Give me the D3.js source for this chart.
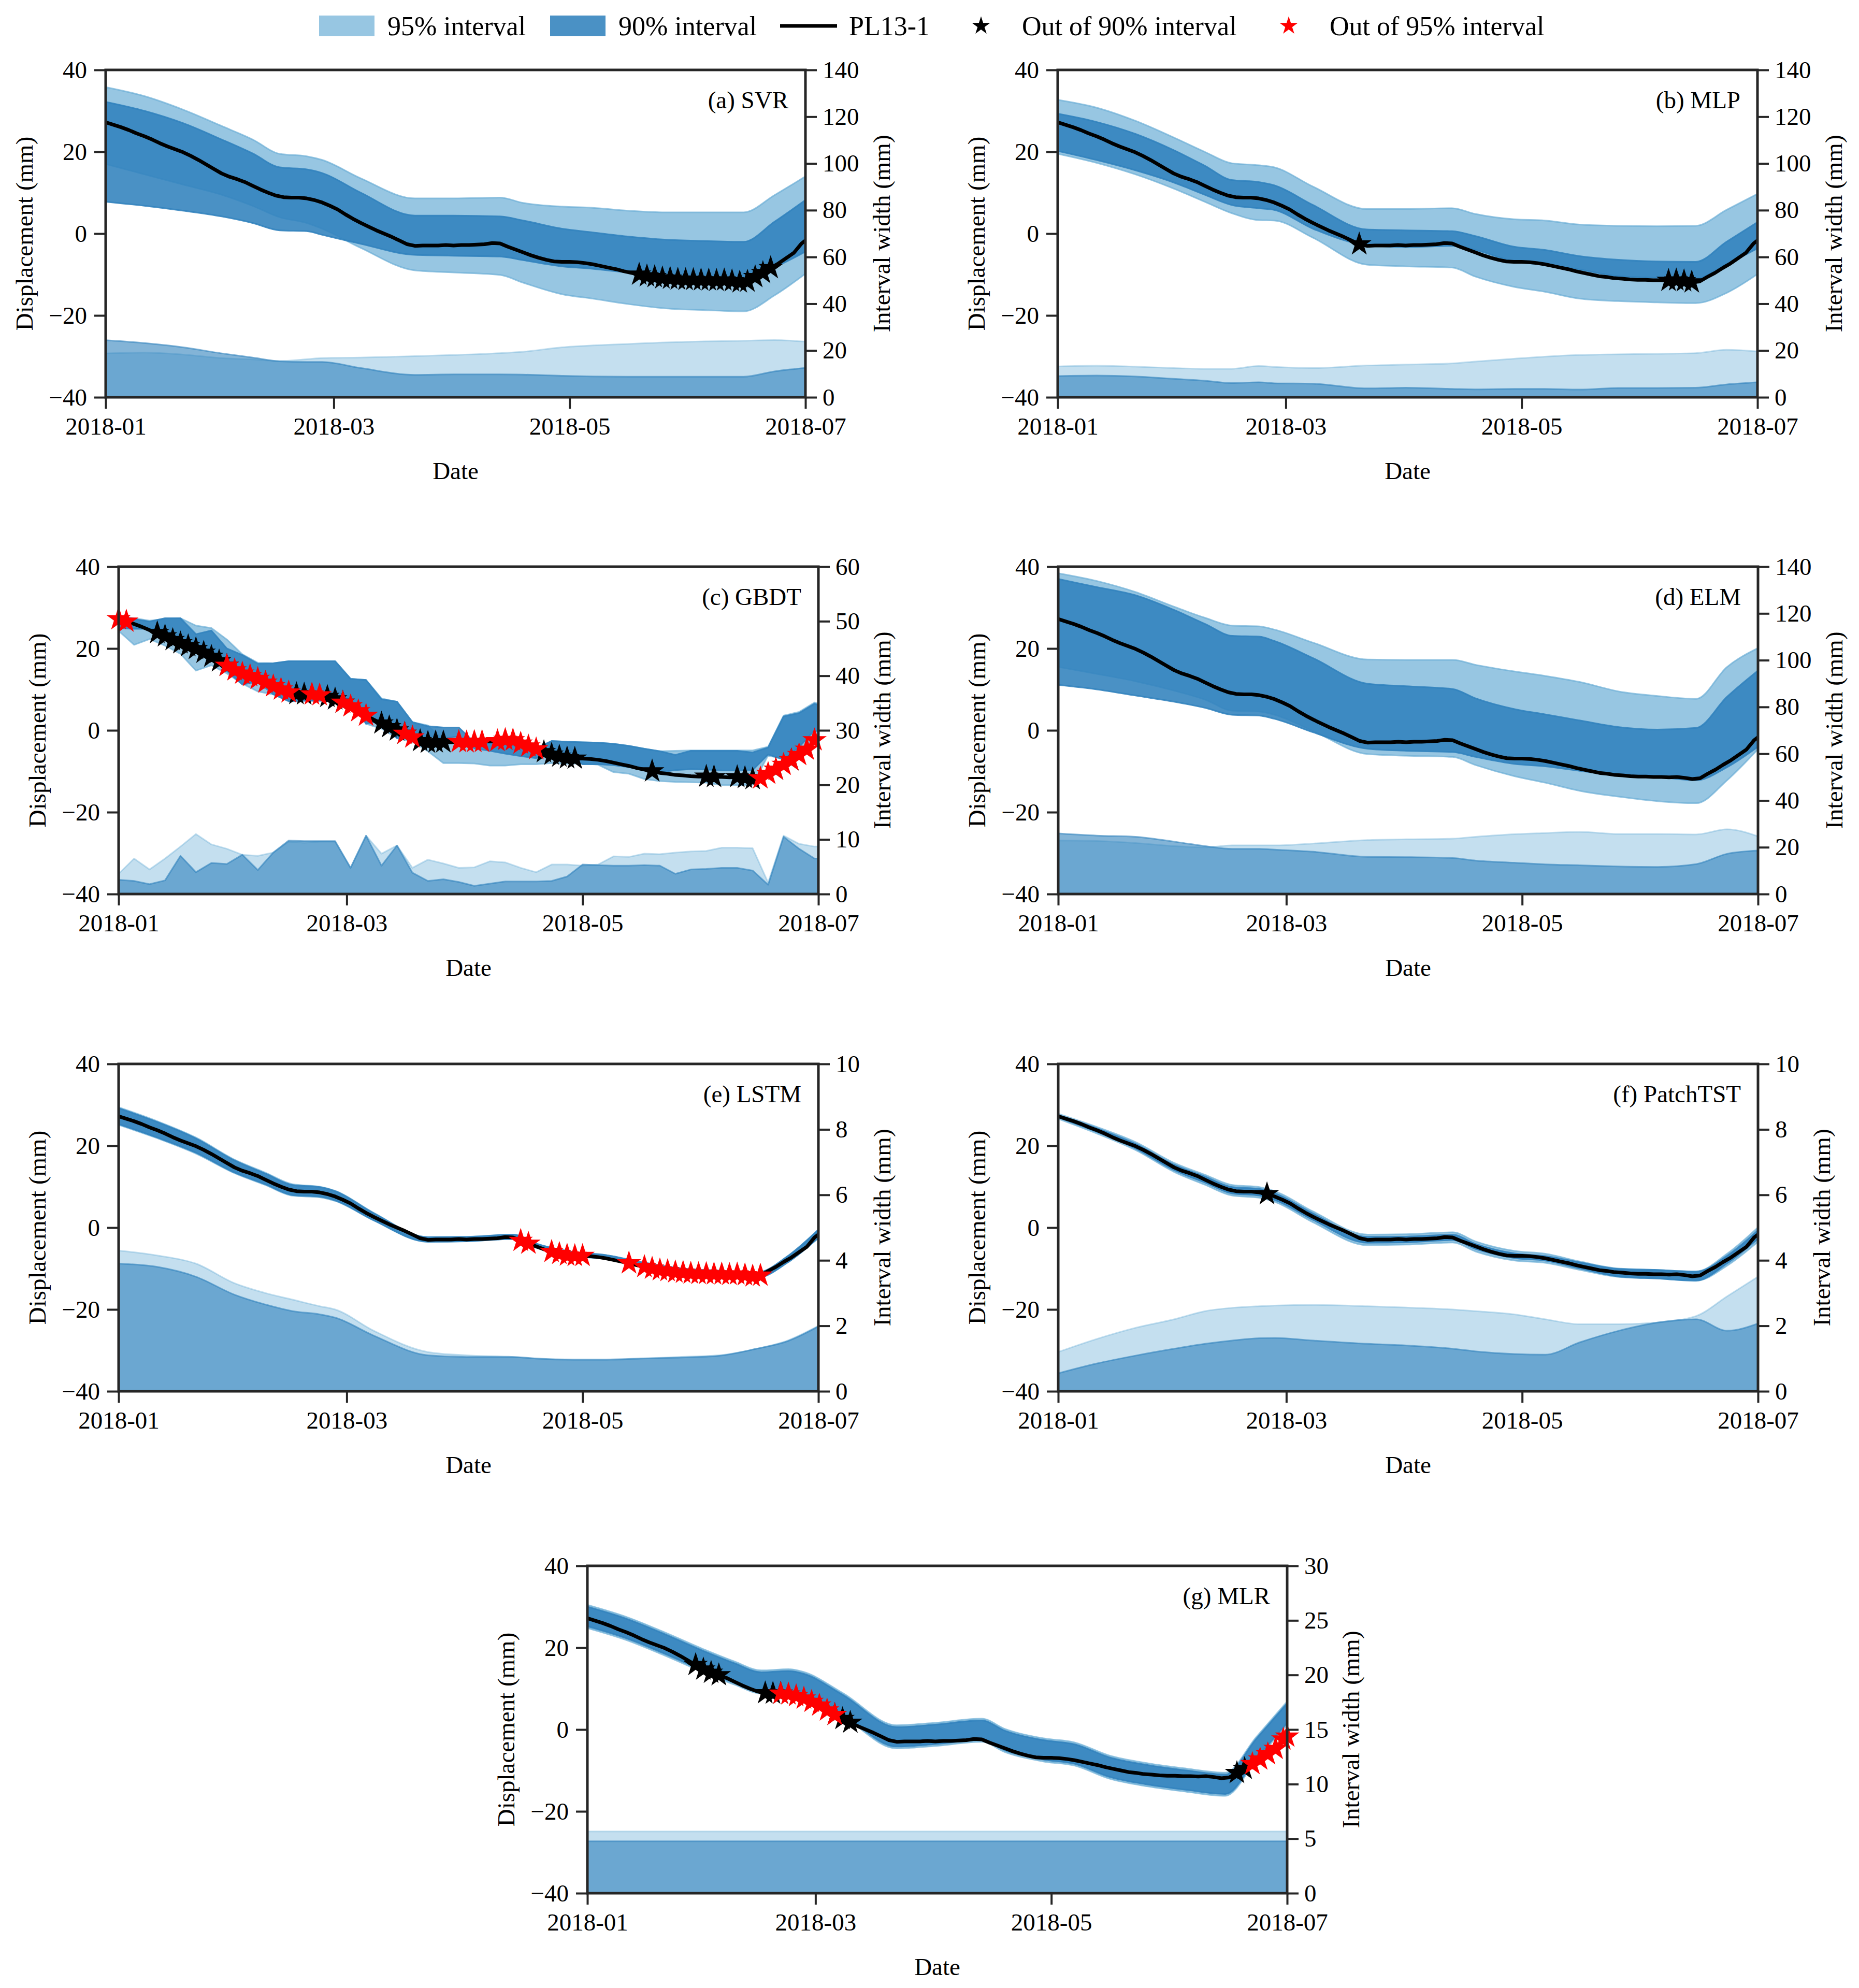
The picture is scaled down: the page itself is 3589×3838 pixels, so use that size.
<!DOCTYPE html>
<html>
<head>
<meta charset="utf-8">
<script src="https://cdn.jsdelivr.net/npm/d3@7"></script>
<style>
  body { margin: 0; background: #fff; }
  svg text { font-family: "Liberation Serif", "Times New Roman", serif; }
</style>
</head>
<body>
<div id="chart"></div>
<script>
// observed displacement PL13-1, every 2 days from 2018-01-01 (last point 2018-07-01)
const lineDays = [...d3.range(0, 181, 2), 181];
const pl13 = [
  27.2, 26.6, 26.0, 25.3, 24.5, 23.8, 23.0, 22.1, 21.3, 20.6,
  19.9, 19.0, 18.0, 16.9, 15.8, 14.7, 13.9, 13.3, 12.6, 11.7,
  10.8, 10.0, 9.3, 8.9, 8.8, 8.8, 8.6, 8.2, 7.6, 6.8,
  5.9, 4.7, 3.6, 2.6, 1.7, 0.8, 0.0, -0.8, -1.7, -2.6,
  -3.0, -2.9, -2.9, -2.9, -2.8, -2.9, -2.8, -2.8, -2.7, -2.6,
  -2.3, -2.4, -3.2, -3.9, -4.6, -5.3, -5.9, -6.4, -6.8, -6.9,
  -6.9, -7.0, -7.2, -7.5, -7.9, -8.3, -8.7, -9.2, -9.6, -10.0,
  -10.4, -10.6, -10.9, -11.0, -11.2, -11.3, -11.3, -11.4, -11.4, -11.5,
  -11.4, -11.6, -11.9, -11.7, -10.6, -9.6, -8.4, -7.3, -6.0, -4.7,
  -2.4, -1.7
];

const dateTicks = ["2018-01-01", "2018-03-01", "2018-05-01", "2018-07-01"];

// interval bounds of the smooth models are read at these dates
const bandDates = [
  "2018-01-01", "2018-01-11", "2018-01-21", "2018-01-31", "2018-02-08", "2018-02-15",
  "2018-02-22", "2018-02-26", "2018-03-08", "2018-03-22", "2018-04-01", "2018-04-13",
  "2018-04-19", "2018-04-29", "2018-05-07", "2018-05-16", "2018-05-26", "2018-06-05",
  "2018-06-15", "2018-06-23", "2018-07-01"
];

const svrUp95 = [35.8, 33.6, 30.3, 26.3, 23.0, 19.5, 18.9, 18.0, 13.5, 8.6, 8.6, 8.8, 7.5, 6.6, 6.3, 5.6, 5.2, 5.2, 5.2, 9.4, 14.0];
const svrLo95 = [17.0, 14.5, 12.0, 9.5, 6.8, 4.0, 2.6, 1.2, -3.5, -9.0, -9.5, -10.1, -12.0, -14.8, -15.9, -17.2, -18.3, -18.7, -19.0, -15.1, -9.8];
const svrUp90 = [32.2, 30.0, 27.0, 23.0, 19.6, 16.2, 15.7, 14.8, 10.0, 4.4, 4.4, 4.2, 3.2, 1.2, 0.3, -0.7, -1.5, -1.8, -2.0, 2.9, 8.2];
const svrLo90 = [7.8, 6.8, 5.6, 4.2, 2.6, 0.8, 0.6, -0.3, -2.5, -5.2, -5.4, -5.6, -6.5, -8.0, -8.6, -9.5, -10.3, -10.6, -10.8, -8.2, -4.4];

const mlpUp95 = [32.7, 30.8, 27.6, 23.5, 20.0, 17.2, 16.7, 16.2, 11.5, 6.0, 6.0, 6.2, 4.8, 3.5, 3.2, 2.2, 1.9, 1.8, 1.9, 5.8, 9.7];
const mlpLo95 = [19.5, 17.3, 14.5, 11.0, 7.8, 5.0, 3.3, 3.2, -1.0, -7.6, -8.0, -8.3, -10.5, -13.0, -14.2, -15.9, -16.5, -16.8, -17.0, -14.5, -9.9];
const mlpUp90 = [29.3, 27.3, 24.4, 20.4, 16.6, 13.1, 12.6, 11.8, 7.0, 1.0, 0.8, 0.6, -0.6, -3.2, -4.0, -5.5, -6.4, -6.8, -6.9, -2.0, 2.8];
const mlpLo90 = [20.2, 18.0, 15.5, 12.5, 9.5, 7.0, 6.2, 5.8, 1.2, -2.8, -3.3, -3.0, -4.0, -6.8, -7.6, -8.8, -10.4, -10.8, -11.0, -7.5, -3.6];

const elmUp95 = [38.4, 36.5, 33.8, 30.2, 27.5, 25.6, 25.4, 24.6, 21.4, 17.3, 17.2, 17.2, 16.0, 14.4, 13.3, 11.8, 9.5, 8.4, 7.7, 15.5, 20.1];
const elmLo95 = [15.5, 13.8, 12.0, 9.7, 7.5, 4.8, 4.6, 3.8, -0.2, -5.8, -6.2, -6.5, -8.5, -11.2, -12.8, -14.8, -16.2, -17.3, -17.8, -12.2, -4.6];
const elmUp90 = [37.0, 35.0, 33.0, 29.4, 26.0, 23.1, 22.9, 21.8, 17.6, 11.4, 10.8, 10.1, 7.8, 5.2, 3.9, 2.4, 0.8, 0.2, 0.6, 8.2, 14.6];
const elmLo90 = [11.1, 10.0, 8.5, 7.0, 5.5, 3.8, 3.6, 2.8, -0.5, -4.5, -5.0, -5.3, -6.5, -8.2, -8.8, -9.9, -11.0, -11.4, -12.2, -9.0, -4.0];

const lstmUp95 = [29.4, 26.0, 22.0, 16.6, 13.4, 10.6, 10.0, 9.0, 3.6, -2.3, -2.25, -1.7, -3.9, -6.0, -6.7, -8.4, -9.9, -10.5, -11.0, -7.0, -0.5];
const lstmLo95 = [25.1, 21.85, 18.1, 13.3, 10.4, 7.8, 7.4, 6.5, 1.75, -3.5, -3.35, -2.75, -4.9, -6.95, -7.65, -9.4, -10.95, -11.6, -12.3, -8.55, -2.5];
const lstmUp90 = [29.2, 25.8, 21.8, 16.4, 13.2, 10.4, 9.9, 8.9, 3.5, -2.35, -2.28, -1.72, -3.92, -6.0, -6.7, -8.42, -9.92, -10.52, -11.0, -7.02, -0.52];
const lstmLo90 = [25.3, 22.0, 18.3, 13.45, 10.55, 7.95, 7.55, 6.65, 1.8, -3.45, -3.33, -2.77, -4.92, -6.97, -7.67, -9.42, -10.95, -11.6, -12.3, -8.55, -2.5];

const tstUp95 = [27.8, 24.6, 20.9, 15.8, 12.9, 10.4, 9.9, 8.9, 3.9, -1.7, -1.6, -1.15, -3.4, -5.7, -6.4, -8.3, -10.0, -10.35, -10.7, -6.4, 0.05];
const tstLo95 = [26.6, 23.0, 18.96, 13.6, 10.45, 7.85, 7.3, 6.28, 1.26, -4.3, -4.16, -3.65, -5.85, -8.05, -8.6, -10.35, -12.05, -12.45, -13.0, -9.3, -3.45];
const tstUp90 = [27.5, 24.25, 20.45, 15.35, 12.45, 9.9, 9.45, 8.4, 3.4, -2.25, -2.2, -1.75, -4.0, -6.3, -6.95, -8.5, -10.1, -10.35, -10.75, -6.9, -0.65];
const tstLo90 = [26.95, 23.4, 19.36, 14.05, 11.0, 8.35, 7.83, 6.77, 1.85, -3.7, -3.6, -3.05, -5.22, -7.44, -8.07, -10.0, -11.95, -12.45, -12.95, -8.75, -2.72];

const mlrUp95 = [30.45, 27.55, 23.75, 19.65, 16.65, 14.45, 14.75, 14.05, 8.95, 1.05, 1.65, 2.65, 0.15, -2.15, -3.15, -6.35, -8.25, -9.55, -10.55, -1.85, 6.85];
const mlrLo95 = [24.79, 21.89, 18.09, 13.99, 10.99, 8.79, 9.09, 8.39, 3.29, -4.61, -4.01, -3.01, -5.51, -7.81, -8.81, -12.01, -13.91, -15.21, -16.21, -7.51, 1.19];
const mlrUp90 = [30.0, 27.1, 23.3, 19.2, 16.2, 14.0, 14.3, 13.6, 8.5, 0.6, 1.2, 2.2, -0.3, -2.6, -3.6, -6.8, -8.7, -10.0, -11.0, -2.3, 6.4];
const mlrLo90 = [25.24, 22.34, 18.54, 14.44, 11.44, 9.24, 9.54, 8.84, 3.74, -4.16, -3.56, -2.56, -5.06, -7.36, -8.36, -11.56, -13.46, -14.76, -15.76, -7.06, 1.64];

// GBDT is step-like, read every 4 days
const gbdtDays = [...d3.range(0, 181, 4), 181];
const gbdtUp95 = [28.0, 27.4, 26.8, 27.2, 27.4, 25.6, 25.0, 22.2, 18.6, 16.5, 16.4, 16.9, 16.9, 16.9, 16.9, 12.6, 12.3, 7.8, 7.0, 2.0, 1.2, -2.4, -3.2, -3.2, -2.6, -2.8, -3.5, -4.3, -2.6, -2.8, -2.9, -3.0, -3.3, -3.8, -4.5, -5.1, -5.0, -4.9, -4.9, -4.9, -4.9, -4.9, -4.0, 3.6, 4.5, 6.8, 6.5];
const gbdtLo95 = [24.3, 20.9, 22.3, 20.7, 18.7, 14.6, 15.9, 13.9, 11.4, 9.5, 8.8, 7.3, 7.5, 7.3, 7.3, 7.8, 1.6, 0.4, -1.9, -2.8, -5.1, -8.0, -8.0, -8.1, -8.6, -8.6, -8.3, -8.3, -8.0, -8.2, -8.1, -8.4, -10.2, -10.6, -11.9, -12.4, -12.6, -12.7, -12.8, -13.4, -13.4, -13.3, -6.1, -7.1, -4.7, -1.9, -2.2];
const gbdtUp90 = [27.6, 27.2, 26.6, 27.4, 27.4, 23.5, 24.4, 20.0, 18.4, 16.3, 16.4, 16.9, 16.9, 16.9, 16.9, 12.6, 12.3, 7.6, 7.0, 2.0, 1.0, 0.7, 0.7, -2.9, -3.1, -3.4, -4.0, -4.5, -2.6, -2.8, -2.9, -3.0, -3.3, -3.8, -4.5, -5.1, -6.0, -5.0, -5.0, -5.0, -5.0, -5.4, -4.2, 3.4, 4.2, 6.5, 6.2];
const gbdtLo90 = [25.0, 24.8, 24.8, 24.9, 20.4, 19.5, 18.7, 14.5, 11.2, 11.9, 8.8, 7.1, 7.2, 7.2, 7.2, 7.8, 1.6, 2.4, -1.9, -1.9, -1.4, -2.0, -1.5, -4.4, -5.0, -5.7, -6.3, -6.8, -5.0, -6.0, -8.3, -8.3, -8.5, -9.0, -9.8, -10.3, -9.7, -9.5, -9.6, -9.8, -9.8, -9.7, -5.9, -7.1, -4.1, 0.0, -0.3];

// days (since 2018-01-01) where PL13-1 falls outside the intervals
const svrOut90 = [138, 140, 142, 144, 146, 148, 150, 152, 154, 156, 158, 160, 162, 164, 166, 168, 170, 172];
const mlpOut90 = [78, 158, 160, 162, 164];
const gbdtOut90 = [10, 12, 14, 16, 18, 20, 22, 24, 26, 28, 46, 48, 54, 56, 58, 68, 70, 72, 74, 78, 80, 82, 84, 110, 112, 114, 116, 118, 138, 152, 154, 160, 162, 164, 170, 174];
const gbdtOut95 = [0, 2, 28, 30, 32, 34, 36, 38, 40, 42, 44, 50, 52, 58, 60, 62, 64, 74, 76, 88, 90, 92, 94, 98, 100, 102, 104, 106, 108, 166, 168, 170, 172, 174, 176, 178, 180];
const lstmOut95 = [104, 106, 112, 114, 116, 118, 120, 132, 136, 138, 140, 142, 144, 146, 148, 150, 152, 154, 156, 158, 160, 162, 164, 166];
const tstOut90 = [54];
const mlrOut90 = [28, 30, 32, 34, 46, 48, 50, 64, 66, 68, 168, 170];
const mlrOut95 = [50, 52, 54, 56, 58, 60, 62, 64, 172, 174, 176, 178, 180, 181];

const c95 = "#6baed6";
const c90 = "#3182bd";
const W = 1351;
const H = 632;
const fontSize = 47;
const serif = '"Liberation Serif", "Times New Roman", serif';

const parseDate = d3.timeParse("%Y-%m-%d");
const t0 = parseDate("2018-01-01");
const t1 = parseDate("2018-07-01");
const dayDate = (d) => d3.timeDay.offset(t0, d);

const panels = [
  { title: "(a) SVR", left: 204, top: 135, wMax: 140, wStep: 20, dates: bandDates.map(parseDate), up95: svrUp95, lo95: svrLo95, up90: svrUp90, lo90: svrLo90, out90: svrOut90, out95: [] },
  { title: "(b) MLP", left: 2042, top: 135, wMax: 140, wStep: 20, dates: bandDates.map(parseDate), up95: mlpUp95, lo95: mlpLo95, up90: mlpUp90, lo90: mlpLo90, out90: mlpOut90, out95: [] },
  { title: "(c) GBDT", left: 229, top: 1094, wMax: 60, wStep: 10, dates: gbdtDays.map(dayDate), up95: gbdtUp95, lo95: gbdtLo95, up90: gbdtUp90, lo90: gbdtLo90, out90: gbdtOut90, out95: gbdtOut95, steppy: true },
  { title: "(d) ELM", left: 2043, top: 1094, wMax: 140, wStep: 20, dates: bandDates.map(parseDate), up95: elmUp95, lo95: elmLo95, up90: elmUp90, lo90: elmLo90, out90: [], out95: [] },
  { title: "(e) LSTM", left: 229, top: 2054, wMax: 10, wStep: 2, dates: bandDates.map(parseDate), up95: lstmUp95, lo95: lstmLo95, up90: lstmUp90, lo90: lstmLo90, out90: [], out95: lstmOut95 },
  { title: "(f) PatchTST", left: 2043, top: 2054, wMax: 10, wStep: 2, dates: bandDates.map(parseDate), up95: tstUp95, lo95: tstLo95, up90: tstUp90, lo90: tstLo90, out90: tstOut90, out95: [] },
  { title: "(g) MLR", left: 1134, top: 3023, wMax: 30, wStep: 5, dates: bandDates.map(parseDate), up95: mlrUp95, lo95: mlrLo95, up90: mlrUp90, lo90: mlrLo90, out90: mlrOut90, out95: mlrOut95 }
];

const svg = d3
  .select("#chart")
  .append("svg")
  .attr("width", 3589)
  .attr("height", 3838)
  .attr("font-family", serif)
  .style("background", "#fff");

const lineRows = lineDays.map((d, i) => ({ day: d, date: dayDate(d), v: pl13[i] }));
const byDay = new Map(lineRows.map((r) => [r.day, r]));
const star = d3.symbol().type(d3.symbolStar);

function drawPanel(p, i) {
  const g = svg.append("g").attr("transform", `translate(${p.left},${p.top})`);

  const x = d3.scaleTime().domain([t0, t1]).range([0, W]);
  const y = d3.scaleLinear().domain([-40, 40]).range([H, 0]);
  const yw = d3.scaleLinear().domain([0, p.wMax]).range([H, 0]);

  g.append("clipPath").attr("id", `clip${i}`).append("rect").attr("width", W).attr("height", H);
  const plot = g.append("g").attr("clip-path", `url(#clip${i})`);

  const rows = p.dates.map((date, j) => ({
    date,
    up95: p.up95[j],
    lo95: p.lo95[j],
    up90: p.up90[j],
    lo90: p.lo90[j]
  }));

  const curve = p.steppy ? d3.curveLinear : d3.curveMonotoneX;
  const band = (hi, lo) =>
    d3.area().curve(curve).x((d) => x(d.date)).y0((d) => y(d[lo])).y1((d) => y(d[hi]));
  const widthArea = (hi, lo) =>
    d3.area().curve(curve).x((d) => x(d.date)).y0(yw(0)).y1((d) => yw(d[hi] - d[lo]));

  const layers = [
    [band("up95", "lo95"), c95, 0.7],
    [band("up90", "lo90"), c90, 0.88],
    [widthArea("up95", "lo95"), c95, 0.4],
    [widthArea("up90", "lo90"), c90, 0.6]
  ];
  layers.forEach(([gen, color, alpha]) => {
    plot
      .append("path")
      .datum(rows)
      .attr("d", gen)
      .attr("fill", color)
      .attr("fill-opacity", alpha)
      .attr("stroke", color)
      .attr("stroke-opacity", alpha)
      .attr("stroke-width", 3)
      .attr("stroke-linejoin", "round");
  });

  plot
    .append("path")
    .datum(lineRows)
    .attr("d", d3.line().x((d) => x(d.date)).y((d) => y(d.v)))
    .attr("fill", "none")
    .attr("stroke", "#000")
    .attr("stroke-width", 7)
    .attr("stroke-linejoin", "round");

  [[p.out90, "#000"], [p.out95, "#ff0000"]].forEach(([days, color]) => {
    g.append("g")
      .selectAll("path")
      .data(days.map((d) => byDay.get(d)))
      .join("path")
      .attr("transform", (d) => `translate(${x(d.date)},${y(d.v)})`)
      .attr("d", star.size(520))
      .attr("fill", color)
      .attr("stroke", color)
      .attr("stroke-width", 2);
  });

  // axes
  const styleAxis = (sel) => {
    sel.attr("font-family", serif).attr("font-size", fontSize);
    sel.select(".domain").remove();
    sel.selectAll(".tick line").attr("stroke", "#262626").attr("stroke-width", 4);
    sel.selectAll(".tick text")
      .attr("fill", "#000")
      .style("font-family", serif)
      .style("font-size", `${fontSize}px`);
  };

  g.append("g")
    .attr("transform", `translate(0,${H})`)
    .call(
      d3.axisBottom(x)
        .tickValues(dateTicks.map(parseDate))
        .tickFormat(d3.timeFormat("%Y-%m"))
        .tickSize(22)
        .tickPadding(17)
    )
    .call(styleAxis);

  g.append("g")
    .call(d3.axisLeft(y).tickValues([-40, -20, 0, 20, 40]).tickSize(22).tickPadding(14))
    .call(styleAxis);

  g.append("g")
    .attr("transform", `translate(${W},0)`)
    .call(
      d3.axisRight(yw)
        .tickValues(d3.range(0, p.wMax + 0.001, p.wStep))
        .tickSize(22)
        .tickPadding(11)
    )
    .call(styleAxis);

  g.append("rect")
    .attr("width", W)
    .attr("height", H)
    .attr("fill", "none")
    .attr("stroke", "#262626")
    .attr("stroke-width", 5);

  g.append("text")
    .attr("x", W - 33)
    .attr("y", 58)
    .attr("text-anchor", "end")
    .attr("dominant-baseline", "central")
    .attr("font-size", fontSize)
    .text(p.title);

  g.append("text")
    .attr("transform", `translate(-157,${H / 2}) rotate(-90)`)
    .attr("text-anchor", "middle")
    .attr("dominant-baseline", "central")
    .attr("font-size", fontSize)
    .text("Displacement (mm)");

  const digits = String(p.wMax).length;
  g.append("text")
    .attr("transform", `translate(${W + 76 + digits * 0.5 * fontSize},${H / 2}) rotate(-90)`)
    .attr("text-anchor", "middle")
    .attr("dominant-baseline", "central")
    .attr("font-size", fontSize)
    .text("Interval width (mm)");

  g.append("text")
    .attr("x", W / 2)
    .attr("y", H + 142)
    .attr("text-anchor", "middle")
    .attr("dominant-baseline", "central")
    .attr("font-size", fontSize)
    .text("Date");
}

panels.forEach(drawPanel);

// legend across the top
const legend = svg.append("g").attr("font-size", 52);
const legY = 50;

legend.append("rect").attr("x", 616).attr("y", legY - 20).attr("width", 107).attr("height", 40)
  .attr("fill", c95).attr("fill-opacity", 0.7);
legend.append("rect").attr("x", 1062).attr("y", legY - 20).attr("width", 107).attr("height", 40)
  .attr("fill", c90).attr("fill-opacity", 0.88);
legend.append("line").attr("x1", 1506).attr("x2", 1616).attr("y1", legY).attr("y2", legY)
  .attr("stroke", "#000").attr("stroke-width", 7);
legend.append("path").attr("transform", `translate(1894,${legY})`).attr("d", star.size(380)).attr("fill", "#000");
legend.append("path").attr("transform", `translate(2488,${legY})`).attr("d", star.size(380)).attr("fill", "#ff0000");

[
  [748, "95% interval"],
  [1194, "90% interval"],
  [1639, "PL13-1"],
  [1973, "Out of 90% interval"],
  [2567, "Out of 95% interval"]
].forEach(([lx, label]) => {
  legend.append("text")
    .attr("x", lx)
    .attr("y", legY)
    .attr("dominant-baseline", "central")
    .text(label);
});
</script>
</body>
</html>
